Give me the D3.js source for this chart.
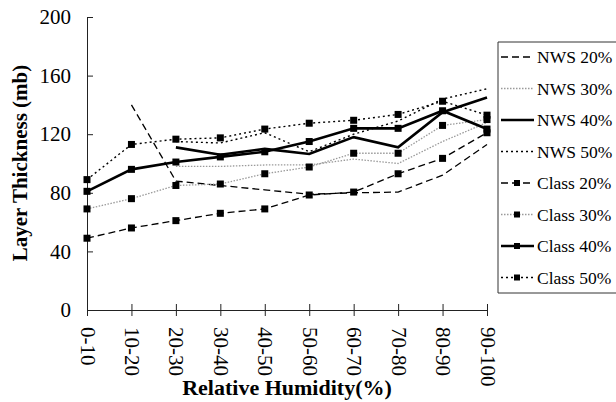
<!DOCTYPE html>
<html><head><meta charset="utf-8">
<script src="https://cdn.jsdelivr.net/npm/d3@7"></script>
<style>body{margin:0;background:#fff}svg{display:block}</style>
</head><body>
<svg id="c" width="616" height="402"></svg>
<script>
const categories = ["0-10","10-20","20-30","30-40","40-50","50-60","60-70","70-80","80-90","90-100"];
const yTicks = [0,40,80,120,160,200];
const seriesNames = ["NWS 20%","NWS 30%","NWS 40%","NWS 50%","Class 20%","Class 30%","Class 40%","Class 50%"];
const nws20   = [null,140,88,85,82,79,80,80.5,92,113];
const nws30   = [null,null,98,98,99,99,103,100,115,128];
const nws40   = [null,null,111,106,110,106.5,118,111,135,145];
const nws50   = [null,null,115,114,121,108,120,129,144,151];
const class20 = [49,56,61,66,69,78.5,80.5,93,103.5,121];
const class30 = [69,76,85,86,93,97.6,107,107,126,130];
const class40 = [81,96,101,104.5,108,115,124,124,136,123.5];
const class50 = [89,113,116.6,117.5,123.5,127.5,129.5,133.5,142.5,133];
const seriesValues = [nws20,nws30,nws40,nws50,class20,class30,class40,class50];

const FONT = "Liberation Serif";
const styles = [
  {stroke:"#000",w:1.3,dash:"7,4",marker:false},
  {stroke:"#9a9a9a",w:1.3,dash:"1.5,1.5",marker:false},
  {stroke:"#000",w:2.6,dash:null,marker:false},
  {stroke:"#000",w:1.4,dash:"2,3",marker:false},
  {stroke:"#000",w:1.3,dash:"7,4",marker:true},
  {stroke:"#9a9a9a",w:1.3,dash:"1.5,1.5",marker:true},
  {stroke:"#000",w:2.6,dash:null,marker:true},
  {stroke:"#000",w:1.4,dash:"2,3",marker:true}
];

const svg = d3.select("#c");
const x = d3.scalePoint().domain(categories).range([87,487]);
const y = d3.scaleLinear().domain([0,200]).range([310,17]);

// Y axis
const yAxis = svg.append("g").attr("transform","translate(87,0)")
  .call(d3.axisLeft(y).tickValues(yTicks).tickSizeInner(6).tickSizeOuter(0).tickPadding(10));
yAxis.attr("font-family",FONT).attr("font-size",21);
yAxis.select(".domain").attr("stroke","#222");
yAxis.selectAll(".tick line").attr("x2",6).attr("stroke","#222");
yAxis.selectAll(".tick text").attr("font-family",FONT).attr("font-size",21).attr("fill","#000");

// X axis
const xAxis = svg.append("g").attr("transform","translate(0,310)")
  .call(d3.axisBottom(x).tickSizeInner(6).tickSizeOuter(0).tickPadding(0));
xAxis.attr("font-family",FONT).attr("font-size",21);
xAxis.select(".domain").attr("stroke","#222");
xAxis.selectAll(".tick line").attr("y1",-6).attr("stroke","#222");
xAxis.selectAll(".tick text")
  .attr("font-family",FONT).attr("font-size",21).attr("fill","#000")
  .attr("text-anchor","start").attr("dy","0.33em")
  .attr("transform","translate(0,17) rotate(90)").attr("x",0).attr("y",0);

// Lines
const line = d3.line().defined(d=>d.v!=null).x(d=>x(d.c)).y(d=>y(d.v));
seriesValues.forEach((vals,i)=>{
  const st = styles[i];
  const data = vals.map((v,j)=>({c:categories[j],v}));
  svg.append("path").datum(data).attr("d",line).attr("fill","none")
    .attr("stroke",st.stroke).attr("stroke-width",st.w)
    .attr("stroke-dasharray",st.dash);
  if(st.marker){
    svg.append("g").selectAll("rect").data(data.filter(d=>d.v!=null)).join("rect")
      .attr("x",d=>x(d.c)-3.5).attr("y",d=>y(d.v)-3.5).attr("width",7).attr("height",7).attr("fill","#000");
  }
});

// Axis titles
svg.append("text").attr("transform","translate(27,163) rotate(-90)").attr("text-anchor","middle")
  .attr("font-family",FONT).attr("font-size",21).attr("font-weight","bold").text("Layer Thickness (mb)");
svg.append("text").attr("x",287).attr("y",395).attr("text-anchor","middle")
  .attr("font-family",FONT).attr("font-size",22).attr("font-weight","bold").text("Relative Humidity(%)");

// Legend
const lg = svg.append("g");
lg.append("path").attr("d","M616,42 H498 V293 H616").attr("fill","none").attr("stroke","#333").attr("stroke-width",1);
seriesNames.forEach((name,i)=>{
  const st = styles[i];
  const cy = 57 + i*31.5;
  lg.append("line").attr("x1",501).attr("x2",534).attr("y1",cy).attr("y2",cy)
    .attr("stroke",st.stroke).attr("stroke-width",st.w).attr("stroke-dasharray",st.dash);
  if(st.marker) lg.append("rect").attr("x",514).attr("y",cy-3).attr("width",6).attr("height",6).attr("fill","#000");
  lg.append("text").attr("x",537).attr("y",cy).attr("dy","0.35em").attr("font-size",17.5)
    .attr("font-family",FONT).text(name);
});
</script>
</body></html>
